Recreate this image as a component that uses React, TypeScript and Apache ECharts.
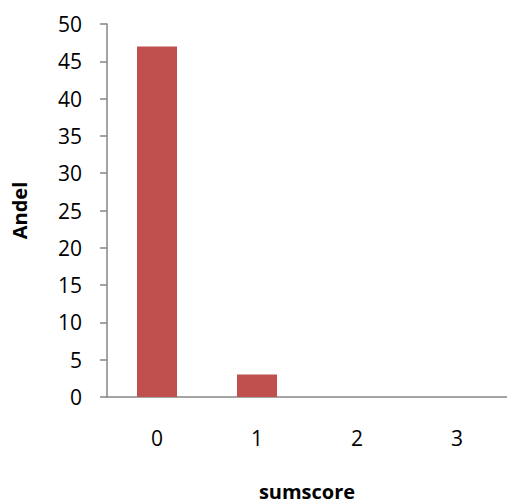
import React, { useEffect, useRef } from "react";
import * as echarts from "echarts";

const categories = ["0", "1", "2", "3"];
const andelValues = [47, 3, 0, 0];
const yTicks = { min: 0, max: 50, interval: 5 };

const FONT = "'Open Sans', 'Liberation Sans', sans-serif";

export default function App() {
  const ref = useRef<HTMLDivElement>(null);

  useEffect(() => {
    if (!ref.current) return;
    const chart = echarts.init(ref.current, undefined, { renderer: "svg" });
    chart.setOption({
      animation: false,
      backgroundColor: "#ffffff",
      grid: { left: 107, right: 0, top: 24, bottom: 106, outerBoundsMode: "none", containLabel: false },
      xAxis: {
        type: "category",
        data: categories,
        name: "sumscore",
        nameLocation: "middle",
        nameGap: 84,
        nameTextStyle: { fontFamily: FONT, fontWeight: "bold", fontSize: 20, color: "#000" },
        axisLine: { lineStyle: { color: "#868686", width: 1.5 } },
        axisTick: { show: false },
        axisLabel: { fontFamily: FONT, fontSize: 21, color: "#000", margin: 30 },
      },
      yAxis: {
        type: "value",
        min: yTicks.min,
        max: yTicks.max,
        interval: yTicks.interval,
        name: "Andel",
        nameLocation: "middle",
        nameGap: 78,
        nameTextStyle: { fontFamily: FONT, fontWeight: "bold", fontSize: 20, color: "#000" },
        axisLine: { show: true, lineStyle: { color: "#868686", width: 1.5 } },
        axisTick: { show: true, length: 7, lineStyle: { color: "#868686", width: 1.5 } },
        splitLine: { show: false },
        axisLabel: { fontFamily: FONT, fontSize: 21, color: "#000", margin: 25 },
      },
      series: [
        {
          type: "bar",
          data: andelValues,
          barWidth: "40%",
          itemStyle: { color: "#C0504D" },
        },
      ],
    });
    return () => chart.dispose();
  }, []);

  return (
    <div
      ref={ref}
      style={{ position: "fixed", left: 0, top: 0, width: 507, height: 503 }}
    />
  );
}
